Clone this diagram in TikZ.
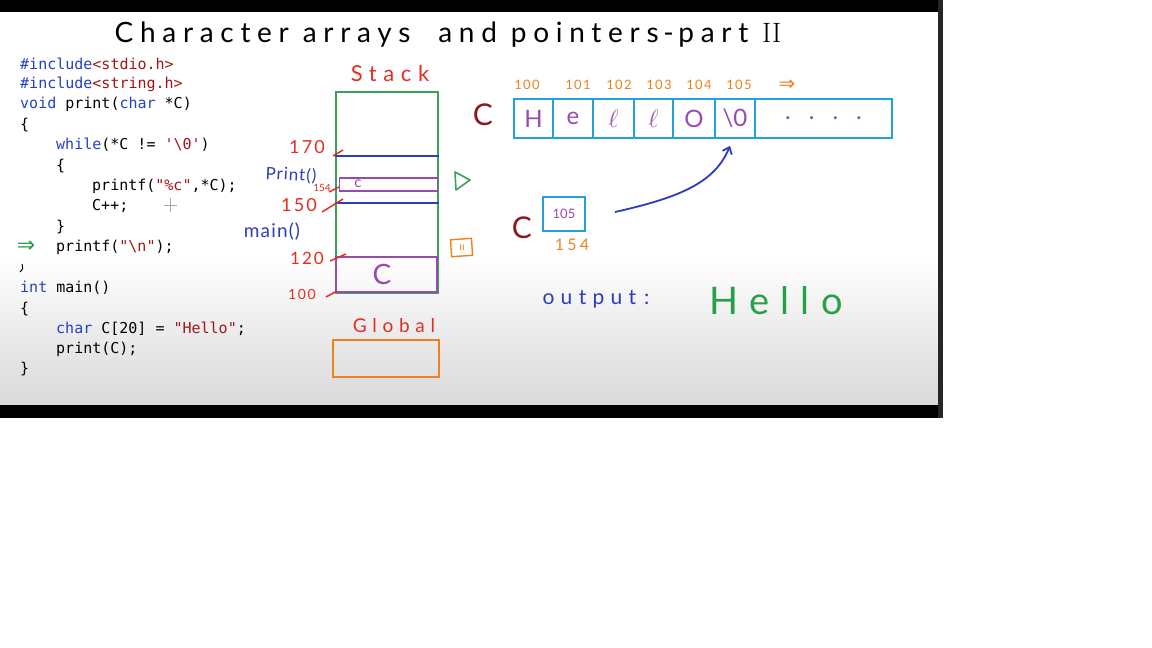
\documentclass[tikz,border=0pt]{standalone}
\usepackage{fontspec}
\setmonofont{DejaVu Sans Mono}
\newfontfamily\handfont{Lato}
\newfontfamily\symfont{DejaVu Sans}
\usetikzlibrary{arrows.meta,positioning,calc}
\definecolor{kwblue}{RGB}{35,65,200}
\definecolor{strred}{RGB}{163,21,21}
\definecolor{hred}{RGB}{230,45,35}
\definecolor{hblue}{RGB}{45,60,190}
\definecolor{hgreen}{RGB}{40,160,70}
\definecolor{horange}{RGB}{240,130,30}
\definecolor{hpurple}{RGB}{150,75,175}
\definecolor{hcyan}{RGB}{35,160,220}
\definecolor{hmaroon}{RGB}{140,25,30}
\definecolor{stackgreen}{RGB}{60,160,90}
\tikzset{
    code/.style={anchor=west, inner sep=0pt, font=\fontsize{15}{18}\ttfamily},
    hand/.style 2 args={inner sep=0pt, font=\fontsize{#1}{#1}\handfont\addfontfeatures{LetterSpace=#2}},
    frame/.style={rectangle, draw, line width=1.6pt, inner sep=0pt},
    cell/.style={rectangle, draw=hcyan, line width=1.8pt, minimum height=39, inner sep=0pt, text=hpurple, font=\fontsize{24}{24}\handfont},
    tick/.style={draw=hred, line width=1.5pt},
    pointer/.style={draw=hblue, line width=1.8pt, -{Straight Barb[length=6pt,width=10pt]}},
}
\begin{document}
\begin{tikzpicture}[x=1pt, y=-1pt]
    % page and video frame
    \useasboundingbox (0,0) rectangle (1152,648);
    \fill[white] (0,0) rectangle (1152,648);
    \shade[top color=white, bottom color=black!15] (0,255) rectangle (938,405);
    \fill[black] (0,0) rectangle (943,12);
    \fill[black] (0,405) rectangle (943,418);
    \fill[black!85] (938,0) rectangle (943,418);

    % title
    \node[hand={28}{24}] (title) at (448,35) {Character arrays\hspace{14pt} and pointers\,-\,part {\rmfamily II}};

    % code
    \node[code] (l1) at (20,64) {\textcolor{kwblue}{\#include}\textcolor{strred}{<stdio.h>}};
    \node[code] (l2) at (20,84) {\textcolor{kwblue}{\#include}\textcolor{strred}{<string.h>}};
    \node[code] (l3) at (20,104) {\textcolor{kwblue}{void} print(\textcolor{kwblue}{char} *C)};
    \node[code] (l4) at (20,125) {\{};
    \node[code] (l5) at (56,145) {\textcolor{kwblue}{while}(*C != \textcolor{strred}{'\textbackslash0'})};
    \node[code] (l6) at (56,166) {\{};
    \node[code] (l7) at (92,186) {printf(\textcolor{strred}{"\%c"},*C);};
    \node[code] (l8) at (92,206) {C++;};
    \node[code] (l9) at (56,227) {\}};
    \node[code] (l10) at (56,247) {printf(\textcolor{strred}{"\textbackslash n"});};
    \node[code] (l11) at (20,288) {\textcolor{kwblue}{int} main()};
    \node[code] (l12) at (20,309) {\{};
    \node[code] (l13) at (56,329) {\textcolor{kwblue}{char} C[20] = \textcolor{strred}{"Hello"};};
    \node[code] (l14) at (56,349) {print(C);};
    \node[code] (l15) at (20,369) {\}};
    \node[inner sep=0pt, text=hgreen, font=\fontsize{22}{22}\symfont] (cur) at (26,247) {⇒};
    \draw[line width=1pt] (22,264) .. controls (23,269) .. (20,272);
    \draw[gray!70, line width=0.8pt] (164,205) -- (177,205) (170.5,198) -- (170.5,212);

    % stack
    \node[hand={22}{30}, text=hred] (stacklbl) at (390,73) {Stack};
    \node[frame, draw=stackgreen, minimum width=102, minimum height=201] (stack) at (387,192.5) {};
    \draw[draw=hblue, line width=1.5pt] ($(stack.north west)+(0,65)$) -- ($(stack.north east)+(0,65)$);
    \draw[draw=hblue, line width=1.5pt] ($(stack.north west)+(0,112)$) -- ($(stack.north east)+(0,112)$);
    \node[frame, draw=hpurple, minimum width=98, minimum height=13] (pframe) at (388.5,184.5) {};
    \node[hand={15}{0}, text=hpurple] (pc) at (358,184) {c};
    \node[frame, draw=hpurple, minimum width=101, minimum height=35] (mframe) at (386.5,274.5) {};
    \node[hand={28}{0}, text=hpurple] (mc) at (382,274) {C};

    % addresses and frame names
    \node[hand={18}{12}, text=hred] (a170) at (307,147) {170};
    \node[hand={10}{0}, text=hred] (a154) at (322,188) {154};
    \node[hand={17}{6}, text=hblue, rotate=-3] (fprint) at (291,175) {Print()};
    \node[hand={18}{12}, text=hred] (a150) at (299,205) {150};
    \node[hand={19}{6}, text=hblue] (fmain) at (272,232) {main()};
    \node[hand={17}{12}, text=hred] (a120) at (307,258) {120};
    \node[hand={14}{12}, text=hred] (a100) at (302,294) {100};
    \draw[tick] (333,156) -- (343,150);
    \draw[tick] (329,192) -- (339,187);
    \draw[tick] (322,212) -- (343,199);
    \draw[tick] (330,261) -- (346,254);
    \draw[tick] (326,297) -- (337,291);

    % controls
    \draw[stackgreen, line width=1.6pt, line join=round] (455,172) -- (470,180) -- (456,190) -- cycle;
    \draw[horange, line width=1.4pt, rotate around={4:(462,247)}] (451,239) rectangle (472,256);
    \node[inner sep=0pt, text=horange, font=\fontsize{11}{11}\handfont] (cc) at (462,248) {ıı};

    % global
    \node[hand={19}{30}, text=hred] (globlbl) at (394,326) {Global};
    \node[frame, draw=horange, minimum width=106, minimum height=37] (global) at (386,358.5) {};

    % the array
    \node[hand={30}{0}, text=hmaroon] (arrname) at (483,115) {C};
    \foreach \l/\r/\t [count=\i] in {514/553/H, 553/593/e, 593/634/$\ell$, 634/673/$\ell$, 673/715/O, 715/755/\textbackslash0, 755/892/{.\hspace{18pt}.\hspace{18pt}.\hspace{18pt}.}}
        \node[cell, minimum width={\r-\l}] (cell\i) at ({(\l+\r)/2},118.5) {\t};
    \foreach \x/\a in {527/100, 578/101, 619/102, 659/103, 699/104, 739/105}
        \node[hand={13}{10}, text=horange] (addr\a) at (\x,85) {\a};
    \node[inner sep=0pt, text=horange, font=\fontsize{20}{20}\symfont] (more) at (787,85) {⇒};

    % the pointer
    \node[hand={30}{0}, text=hmaroon] (ptrname) at (522,228) {C};
    \node[rectangle, draw=hcyan, line width=1.8pt, minimum width=42, minimum height=34, inner sep=0pt, text=hpurple, font=\fontsize{13}{13}\handfont] (ptr) at (564,214) {105};
    \node[hand={16}{20}, text=horange] (ptraddr) at (572,245) {154};
    \coordinate (ptrtail) at (615,212);
    \draw[pointer] (ptrtail) .. controls (682,197) and (715,182) .. ([xshift=-5pt,yshift=-7pt]cell6.south);

    % output
    \node[hand={21}{30}, text=hblue] (outlbl) at (596,299) {output\hspace{8pt}:};
    \node[hand={38}{30}, text=hgreen] (outval) at (776,301) {Hello};
\end{tikzpicture}
\end{document}
